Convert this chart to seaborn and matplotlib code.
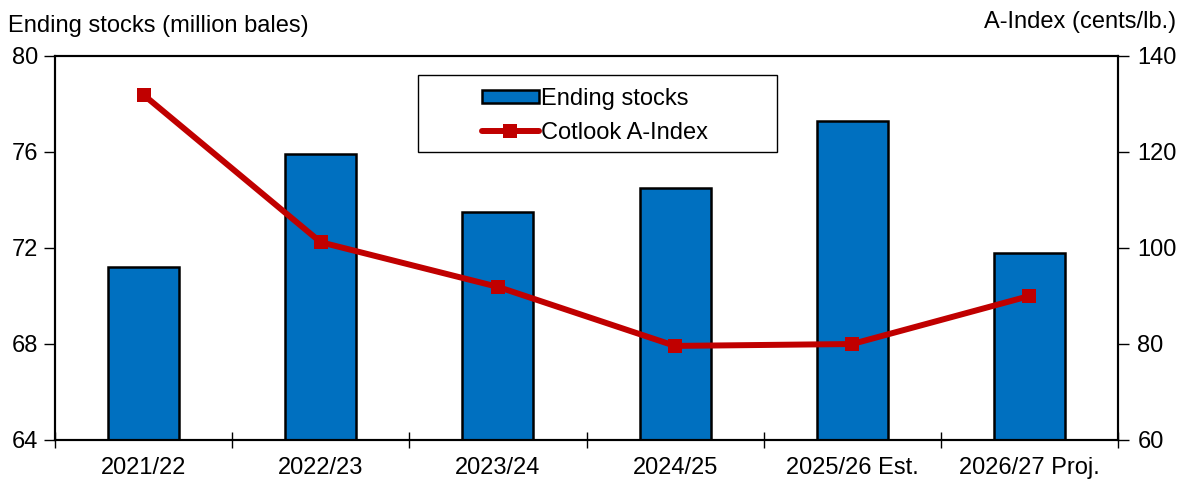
import matplotlib
matplotlib.use("Agg")
import matplotlib.pyplot as plt
from matplotlib.patches import Rectangle
import seaborn as sns
import pandas as pd

# data
seasons = ["2021/22", "2022/23", "2023/24", "2024/25", "2025/26 Est.", "2026/27 Proj."]
ending_stocks = [71.2, 75.9, 73.5, 74.5, 77.3, 71.8]
a_index = [131.9, 101.2, 91.9, 79.6, 80.0, 90.0]

df = pd.DataFrame({"season": seasons, "stocks": ending_stocks, "aindex": a_index})

sns.set_style("ticks")
plt.rcParams["font.family"] = ["Liberation Sans", "DejaVu Sans"]
plt.rcParams["font.size"] = 17
for k in ["text.color", "xtick.color", "ytick.color", "axes.labelcolor", "axes.edgecolor"]:
    plt.rcParams[k] = "black"

fig = plt.figure(figsize=(11.85, 4.8), dpi=100)
ax = fig.add_axes([55 / 1185, 40 / 480, 1063 / 1185, 384 / 480])

# bars for ending stocks
sns.barplot(data=df, x="season", y="stocks", color="#0070C0", width=0.4,
            edgecolor="black", linewidth=1.8, saturation=1, ax=ax,
            label="Ending stocks", zorder=2)
ax.set_ylim(64, 80)
ax.set_yticks([64, 68, 72, 76, 80])
ax.set_xlim(-0.5, 5.5)
ax.set_xlabel("")
ax.set_ylabel("")

# line for A-Index
ax2 = ax.twinx()
sns.lineplot(data=df, x="season", y="aindex", color="#C00000", linewidth=4.3,
             marker="s", markersize=10, markeredgewidth=0, ax=ax2,
             label="Cotlook A-Index", sort=False)
ax2.set_ylim(60, 140)
ax2.set_yticks([60, 80, 100, 120, 140])
ax2.set_ylabel("")
ax2.set_xlim(-0.5, 5.5)

# ticks: labels at category centres, minor ticks at boundaries
ax.set_xticks(range(len(seasons)))
ax.set_xticklabels(seasons)
ax.set_xticks([i - 0.5 for i in range(len(seasons) + 1)], minor=True)
ax.tick_params(axis="x", which="major", length=0, pad=12, labelsize=17)
ax.tick_params(axis="x", which="minor", bottom=True, direction="inout", length=12, width=1)
ax.tick_params(axis="y", which="major", left=True, direction="out", length=8, width=1, pad=4, labelsize=17)
ax2.tick_params(axis="y", which="major", right=True, direction="out", length=8, width=1, pad=6, labelsize=17)

for a in (ax, ax2):
    for s in a.spines.values():
        s.set_visible(True)
        s.set_color("black")
        s.set_linewidth(1.5)

# combined legend with a separate frame box
h1, l1 = ax.get_legend_handles_labels()
h2, l2 = ax2.get_legend_handles_labels()
if ax.get_legend():
    ax.get_legend().remove()
ax2.legend(h1 + h2, l1 + l2, loc="upper left", bbox_to_anchor=(0.4017, 0.917),
           frameon=False, handlelength=2.4, handleheight=0.5, borderpad=0,
           labelspacing=0.5, borderaxespad=0, handletextpad=0.1, fontsize=17)
ax2.add_patch(Rectangle((0.3415, 0.75), 0.3377, 0.2005, transform=ax2.transAxes,
                        facecolor="white", edgecolor="black", linewidth=1, zorder=4))
ax2.get_legend().set_zorder(5)

fig.text(8 / 1185, 1 - 26 / 480, "Ending stocks (million bales)", ha="left", va="center", fontsize=17)
fig.text(1176 / 1185, 1 - 22 / 480, "A-Index (cents/lb.)", ha="right", va="center", fontsize=17)

fig.savefig("out.png", dpi=100)
